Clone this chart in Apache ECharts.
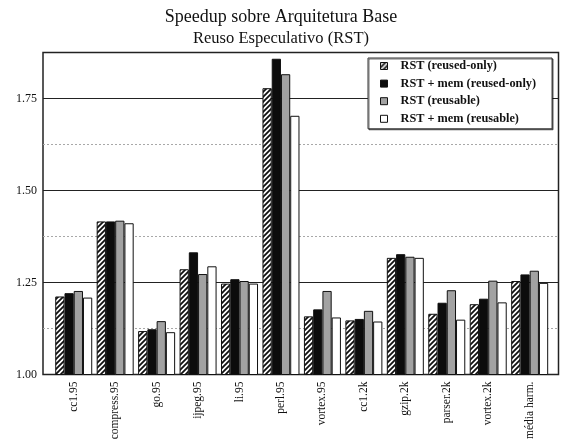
<!DOCTYPE html>
<html>
<head>
<meta charset="utf-8">
<script src="https://cdn.jsdelivr.net/npm/echarts@6/dist/echarts.min.js"></script>
<style>
  html, body { margin: 0; padding: 0; background: #fff; }
  #chart { width: 562px; height: 444px; }
</style>
</head>
<body>
<div id="chart"></div>
<script>
// Benchmarks on the category axis
const categories = ['cc1.95', 'compress.95', 'go.95', 'ijpeg.95', 'li.95', 'perl.95',
  'vortex.95', 'cc1.2k', 'gzip.2k', 'parser.2k', 'vortex.2k', 'média harm.'];

// Speedup of each configuration over the base architecture
const rstReusedOnly    = [1.212, 1.416, 1.118, 1.286, 1.247, 1.778, 1.158, 1.147, 1.317, 1.165, 1.191, 1.254];
const rstMemReusedOnly = [1.221, 1.416, 1.123, 1.332, 1.259, 1.858, 1.177, 1.151, 1.327, 1.195, 1.206, 1.272];
const rstReusable      = [1.227, 1.418, 1.145, 1.273, 1.254, 1.816, 1.227, 1.173, 1.320, 1.229, 1.255, 1.282];
const rstMemReusable   = [1.209, 1.411, 1.115, 1.294, 1.247, 1.703, 1.155, 1.144, 1.317, 1.149, 1.196, 1.249];

const seriesNames = ['RST (reused-only)', 'RST + mem (reused-only)', 'RST (reusable)', 'RST + mem (reusable)'];

// Y axis range and tick spacing
const yMin = 1.0;
const yMax = 1.875;
const yMajor = 0.25;
const yMinor = 0.125;

// Diagonal hatch fill for the first series
function hatchPattern() {
  const s = 5;
  const c = document.createElement('canvas');
  c.width = s; c.height = s;
  const g = c.getContext('2d');
  g.fillStyle = '#fff';
  g.fillRect(0, 0, s, s);
  g.strokeStyle = '#111';
  g.lineWidth = 1.8;
  g.beginPath();
  g.moveTo(-1, s + 1); g.lineTo(s + 1, -1);
  g.moveTo(-1, 1); g.lineTo(1, -1);
  g.moveTo(s - 1, s + 1); g.lineTo(s + 1, s - 1);
  g.stroke();
  return { image: c, repeat: 'repeat' };
}

const fills = [hatchPattern(), '#0c0c0c', '#a2a2a2', '#ffffff'];
const seriesData = [rstReusedOnly, rstMemReusedOnly, rstReusable, rstMemReusable];

const serif = '"Liberation Serif", "DejaVu Serif", serif';

const chart = echarts.init(document.getElementById('chart'), null, { renderer: 'canvas' });

chart.setOption({
  backgroundColor: '#fff',
  animation: false,
  title: [
    { text: 'Speedup sobre Arquitetura Base', left: 'center', top: 3,
      textStyle: { fontFamily: serif, fontSize: 18, fontWeight: 'normal', color: '#111' } },
    { text: 'Reuso Especulativo (RST)', left: 'center', top: 25,
      textStyle: { fontFamily: serif, fontSize: 16.5, fontWeight: 'normal', color: '#111' } }
  ],
  legend: {
    orient: 'vertical',
    left: 368, top: 58,
    padding: [1, 16, 3, 12],
    itemWidth: 7, itemHeight: 7,
    itemGap: 3.6,
    icon: 'rect',
    backgroundColor: '#fff',
    borderColor: '#333', borderWidth: 1,
    shadowColor: 'rgba(0,0,0,0.55)', shadowOffsetX: 1, shadowOffsetY: 1, shadowBlur: 0,
    textStyle: { fontFamily: serif, fontSize: 12.3, fontWeight: 'bold', color: '#111', lineHeight: 14, padding: [0, 0, 0, 8] },
    itemStyle: { borderColor: '#111', borderWidth: 1 },
    data: seriesNames,
    z: 10
  },
  grid: [
    // framed plot area with gridlines and value labels
    { left: 43, right: 3.5, top: 52.5, bottom: 69.5, show: true, borderColor: '#222', borderWidth: 1.5, backgroundColor: 'transparent', z: 0 },
    // inner band where the bar groups sit
    { left: 53, width: 497.4, top: 52.5, bottom: 69.5, show: false }
  ],
  xAxis: [
    { type: 'category', gridIndex: 0, data: categories, show: false },
    { type: 'category', gridIndex: 1, data: categories,
      axisLine: { show: false }, axisTick: { show: false },
      axisLabel: { rotate: 90, margin: 7, fontFamily: serif, fontSize: 11.5, color: '#111', interval: 0 } }
  ],
  yAxis: [
    // minor dotted lines
    { type: 'value', gridIndex: 0, min: yMin, max: yMax, interval: yMinor,
      axisLine: { show: false }, axisTick: { show: false }, axisLabel: { show: false },
      splitLine: { show: true, lineStyle: { color: '#a8a8a8', type: [2, 2], width: 1 } } },
    // major solid lines with labels
    { type: 'value', gridIndex: 0, min: yMin, max: yMax, interval: yMajor, position: 'left',
      axisLine: { show: false }, axisTick: { show: false },
      axisLabel: { margin: 6, fontFamily: serif, fontSize: 12, color: '#111',
        formatter: v => (Math.abs(v / yMajor - Math.round(v / yMajor)) < 1e-6 ? v.toFixed(2) : '') },
      splitLine: { show: true, lineStyle: { color: '#222', width: 1.2 } } },
    { type: 'value', gridIndex: 1, min: yMin, max: yMax, show: false, splitLine: { show: false } }
  ],
  series: seriesNames.map((name, i) => ({
    name,
    type: 'bar',
    xAxisIndex: 1,
    yAxisIndex: 2,
    data: seriesData[i],
    barWidth: 9.25,
    barGap: '0%',
    itemStyle: { color: fills[i], borderColor: '#111', borderWidth: 1 },
    z: 3
  }))
});
</script>
</body>
</html>
